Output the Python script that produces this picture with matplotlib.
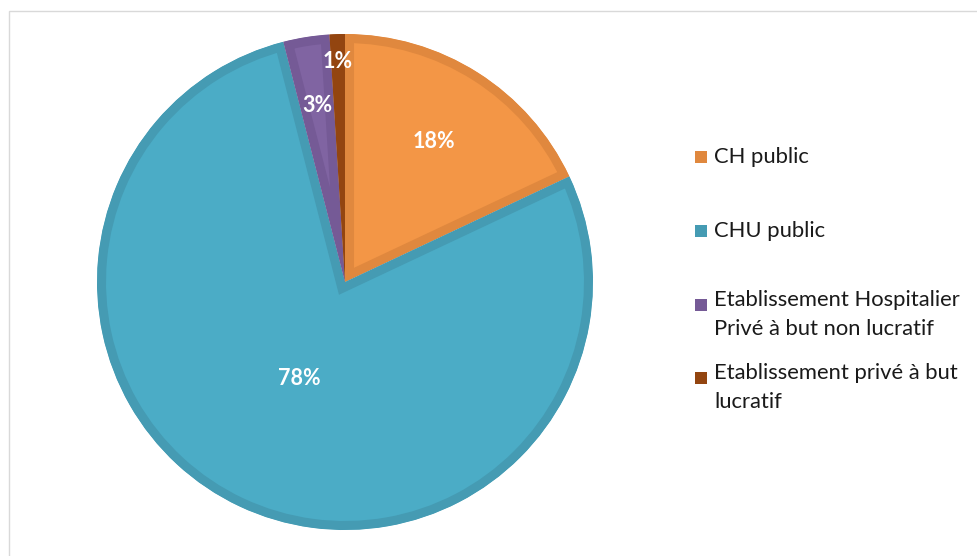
import numpy as np
import matplotlib
matplotlib.use("Agg")
import matplotlib.pyplot as plt
from matplotlib.patches import Rectangle

plt.rcParams['font.family'] = ['Lato', 'DejaVu Sans']

# data
labels = ['CH public', 'CHU public',
          'Etablissement Hospitalier\nPrivé à but non lucratif',
          'Etablissement privé à but\nlucratif']
values = [18, 78, 3, 1]
fills = ['#F39646', '#4BACC6', '#8064A2', '#A04D0F']
edges = ['#E0883E', '#459BB3', '#755A96', '#934510']
label_dist = [0.67, 0.43, 0.72, 0.89]

W, H = 977, 556
fig = plt.figure(figsize=(W / 100, H / 100), dpi=100)
ax = fig.add_axes([0, 0, 1, 1])

cx, cy, r = 345, H - 282, 248
wedges, _ = ax.pie(values, colors=fills, startangle=90, counterclock=False,
                   center=(cx, cy), radius=r, frame=True,
                   wedgeprops=dict(linewidth=0))
for w, ec in zip(wedges, edges):
    w.set_edgecolor(ec)
    w.set_linewidth(13)
    w.set_clip_on(True)
    w.set_clip_path(w)
ax.set_xlim(0, W)
ax.set_ylim(0, H)
ax.set_aspect('equal')
ax.axis('off')

# chart frame
ax.add_patch(Rectangle((8.5, -5), W, H - 5.5, fill=False,
                       edgecolor='#D9D9D9', linewidth=1))

total = sum(values)
for w, v, d in zip(wedges, values, label_dist):
    ang = np.deg2rad((w.theta1 + w.theta2) / 2)
    ax.text(cx + d * r * np.cos(ang), cy + d * r * np.sin(ang),
            f'{round(100 * v / total)}%', ha='center', va='center',
            color='white', fontsize=15.5, fontweight='bold')

# legend
leg_y = [157, 231, 305, 378]
for lab, col, y in zip(labels, edges, leg_y):
    ax.add_patch(Rectangle((695, H - y - 6), 12, 12, facecolor=col,
                           edgecolor='none'))
    if '\n' in lab:
        ax.text(714, H - y + 15, lab, ha='left', va='top', fontsize=15.8,
                color='#1a1a1a', linespacing=1.55)
    else:
        ax.text(714, H - y, lab, ha='left', va='center', fontsize=15.8,
                color='#1a1a1a')

fig.savefig('out.png', dpi=100)
